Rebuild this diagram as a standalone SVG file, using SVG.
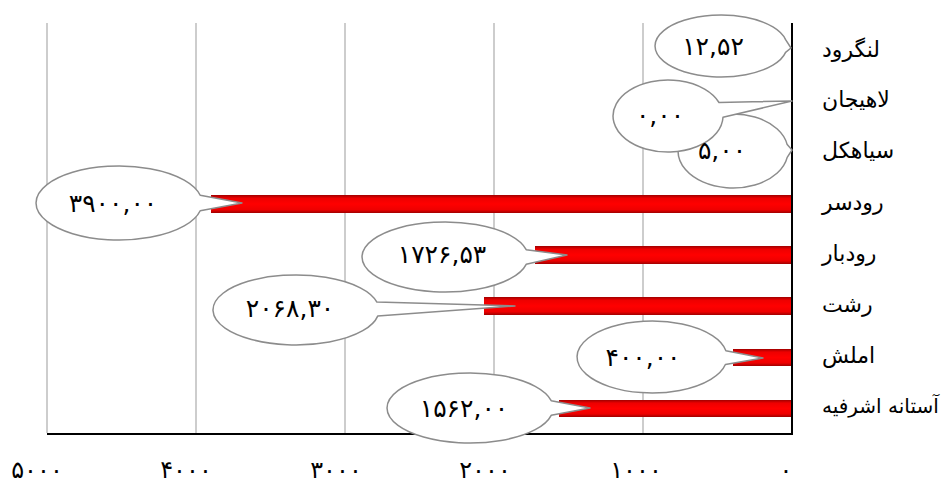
<svg xmlns="http://www.w3.org/2000/svg" width="946" height="484" viewBox="0 0 946 484">
<defs>
<linearGradient id="barGrad" x1="0" y1="0" x2="0" y2="1">
<stop offset="0" stop-color="#a00000"/>
<stop offset="0.18" stop-color="#ee0000"/>
<stop offset="0.5" stop-color="#ff0000"/>
<stop offset="0.82" stop-color="#ee0000"/>
<stop offset="1" stop-color="#a00000"/>
</linearGradient>
<style>
.grid{stroke:#bdbdbd;stroke-width:1.5;fill:none}
.axis{stroke:#000;stroke-width:2;fill:none}
.bar{fill:url(#barGrad)}
.callout{fill:#fff;stroke:#8c8c8c;stroke-width:1.5;stroke-linejoin:round}
.num{font-family:"DejaVu Sans",sans-serif;font-size:25px;fill:#000;text-anchor:middle}
.cat{font-family:"DejaVu Sans",sans-serif;font-size:22px;fill:#000;text-anchor:start}
.tick{font-family:"DejaVu Sans",sans-serif;font-size:24px;fill:#000;text-anchor:middle}
</style>
</defs>
<rect width="946" height="484" fill="#fff"/>
<g id="gridlines">
<line class="grid" x1="47" y1="23" x2="47" y2="433"/>
<line class="grid" x1="196" y1="23" x2="196" y2="433"/>
<line class="grid" x1="345" y1="23" x2="345" y2="433"/>
<line class="grid" x1="494" y1="23" x2="494" y2="433"/>
<line class="grid" x1="643" y1="23" x2="643" y2="433"/>
</g>
<g id="bars">
<rect class="bar" x="211" y="195" width="581" height="18"/>
<rect class="bar" x="535" y="246" width="257" height="18"/>
<rect class="bar" x="484" y="297" width="308" height="18"/>
<rect class="bar" x="733" y="349" width="59" height="17"/>
<rect class="bar" x="559" y="400" width="233" height="17"/>
</g>
<g id="axes">
<line class="axis" x1="792" y1="23" x2="792" y2="435"/>
<line class="axis" x1="47" y1="434" x2="793" y2="434"/>
</g>
<g id="connectors">
<path id="callout-langarud" class="callout" d="M785.6 39.6 A66 31 0 1 0 785.6 52.4 L791 48 Z"/>
<path id="callout-siahkal" class="callout" d="M787.2 144.6 A55 37 0 1 0 787.2 157.4 L792 150 Z"/>
<path id="callout-lahijan" class="callout" d="M719 102.5 A55 36 0 1 0 723 117.3 L792 101 Z"/>
<path id="callout-rudsar" class="callout" d="M200.2 195.3 A83 37 0 1 0 200.2 210.7 L242 203 Z"/>
<path id="callout-rudbar" class="callout" d="M526.2 249.7 A83 35 0 1 0 526.2 264.3 L567 255 Z"/>
<path id="callout-rasht" class="callout" d="M376.9 302.1 A83 35 0 1 0 377.7 316.1 L515 306 Z"/>
<path id="callout-amlash" class="callout" d="M725.9 350.7 A75 36 0 1 0 725.4 364.5 L763 358 Z"/>
<path id="callout-astaneh" class="callout" d="M551.2 400.7 A83 35 0 1 0 551.2 415.3 L590 408 Z"/>
</g>
<g id="value-labels">
<text class="num" x="713" y="55">۱۲,۵۲</text>
<text class="num" x="660" y="124">۰,۰۰</text>
<text class="num" x="722" y="159">۵,۰۰</text>
<text class="num" x="113" y="212">۳۹۰۰,۰۰</text>
<text class="num" x="442" y="263">۱۷۲۶,۵۳</text>
<text class="num" x="290" y="317">۲۰۶۸,۳۰</text>
<text class="num" x="643" y="366">۴۰۰,۰۰</text>
<text class="num" x="464" y="417">۱۵۶۲,۰۰</text>
</g>
<g id="categories">
<text class="cat" x="822" y="57">لنگرود</text>
<text class="cat" x="822" y="107">لاهیجان</text>
<text class="cat" x="822" y="158">سیاهکل</text>
<text class="cat" x="822" y="210">رودسر</text>
<text class="cat" x="822" y="261">رودبار</text>
<text class="cat" x="822" y="312">رشت</text>
<text class="cat" x="822" y="363">املش</text>
<text class="cat" x="822" y="413" style="font-size:20px">آستانه اشرفیه</text>
</g>
<g id="x-axis-labels">
<text class="tick" x="37" y="478">۵۰۰۰</text>
<text class="tick" x="186" y="478">۴۰۰۰</text>
<text class="tick" x="336" y="478">۳۰۰۰</text>
<text class="tick" x="485" y="478">۲۰۰۰</text>
<text class="tick" x="636" y="478">۱۰۰۰</text>
<text class="tick" x="786" y="478">۰</text>
</g>
</svg>
